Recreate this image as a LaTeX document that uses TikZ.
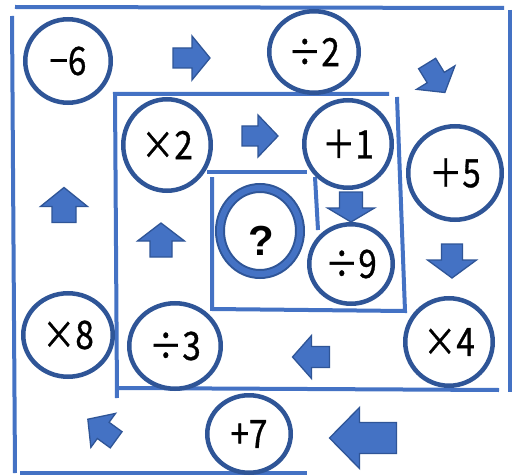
\documentclass[tikz,border=0pt]{standalone}
\usepackage{fontspec}
\setmainfont{Noto Sans CJK JP}
\newfontfamily\labfont[FakeStretch=0.85, FakeBold=0.8]{Noto Sans CJK JP}
\newfontfamily\qfont{Liberation Sans}
\usetikzlibrary{shapes.geometric}
\definecolor{lineblue}{HTML}{4472C4}
\definecolor{darkblue}{HTML}{2F5597}
\tikzset{
  wall/.style={draw=lineblue, line width=4pt},
  op/.style={ellipse, draw=darkblue, line width=4.5pt, fill=white, inner sep=0pt,
    font=\labfont\fontsize{39}{39}\selectfont},
  blk/.style={fill=lineblue, draw=darkblue, line width=1.3pt, line join=miter},
}
\newcommand{\myarrow}[7]{%
  \draw[blk, shift={(#1,#2)}, rotate=#3]
    ({-#4/2},{-#5/2}) -- ({#4/2-#7},{-#5/2}) -- ({#4/2-#7},{-#6/2}) -- ({#4/2},0)
    -- ({#4/2-#7},{#6/2}) -- ({#4/2-#7},{#5/2}) -- ({-#4/2},{#5/2}) -- cycle;}
\begin{document}
\begin{tikzpicture}[x=1pt, y=-1pt]
\fill[white] (0,0) rectangle (514,476);
\useasboundingbox (0,0) rectangle (514,476);
% walls
\draw[wall] (15,7) -- (504,8);
\draw[wall] (510,10) -- (510,392);
\draw[wall] (12,16) -- (15,473);
\draw[wall] (20,473) -- (307,473);
\draw[wall] (117,398) -- (115,94) -- (389,94);
\draw[wall] (397,97) -- (405,311) -- (212,309) -- (212,177);
\draw[wall] (117,388) -- (499,390);
\draw[wall] (207,172) -- (307,172);
\draw[wall] (315,177) -- (318,230);
% arrows
\myarrow{191.5}{58}{0}{37}{20}{44}{18}
\myarrow{260}{136}{0}{36}{20}{42}{20}
\myarrow{436}{78}{-58.5}{34}{20}{45}{17.5}
\myarrow{351}{207}{-90}{30}{23}{47}{14}
\myarrow{452}{261}{-90}{34}{21}{49}{18}
\myarrow{311}{357}{180}{37}{21}{43}{19}
\myarrow{363}{438}{180}{67}{31}{61}{30}
\myarrow{102}{429.5}{144}{35}{20}{42}{19}
\myarrow{64}{205}{90}{35}{24}{47}{19}
\myarrow{161}{240}{90}{34}{22}{47}{18}
% operation circles
\node[op, minimum width=85.5pt, minimum height=83.5pt] (m6) at (68,61) {−6};
\node[op, minimum width=89.5pt, minimum height=81.5pt] (d2) at (314,52) {÷2};
\node[op, minimum width=87.5pt, minimum height=91.5pt] (t2) at (167,145) {×2};
\node[op, minimum width=87.5pt, minimum height=87.5pt] (p1) at (348,144) {＋1};
\node[op, minimum width=93.5pt, minimum height=93.5pt] (p5) at (455,173) {＋5};
\node[op, minimum width=83.5pt, minimum height=79.5pt] (d9) at (351,264) {÷9};
\node[op, minimum width=89.5pt, minimum height=83.5pt] (t8) at (68,335) {×8};
\node[op, minimum width=91.5pt, minimum height=85.5pt] (d3) at (175,346) {÷3};
\node[op, minimum width=87.5pt, minimum height=87.5pt] (t4) at (449,342) {×4};
\node[op, minimum width=83.5pt, minimum height=77.5pt] (p7) at (249,434) {+7};
% question ring
\draw[darkblue, line width=10pt] (260,231) ellipse [x radius=40, y radius=43];
\draw[lineblue, line width=6pt] (260,231) ellipse [x radius=40, y radius=43];
\node[font=\qfont\bfseries\fontsize{42}{42}\selectfont, inner sep=0pt] (q) at (261,241) {?};
\end{tikzpicture}
\end{document}
